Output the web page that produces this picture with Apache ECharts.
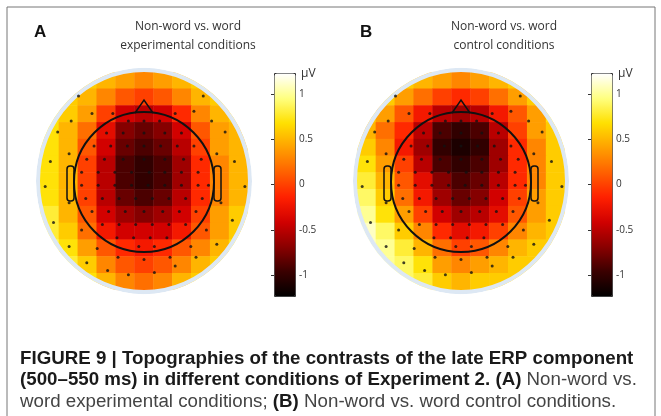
<!DOCTYPE html>
<html><head><meta charset="utf-8">
<script src="https://cdn.jsdelivr.net/npm/echarts@6/dist/echarts.min.js"></script>
<style>html,body{margin:0;padding:0;background:#fff}#main{width:661px;height:416px}</style>
</head><body><div id="main"></div>
<script>
var chartDom = document.getElementById('main');
var myChart = echarts.init(chartDom);

// grid of values (μV), rows top -> bottom, columns left -> right
var cols = ['-1','-0.8','-0.6','-0.4','-0.2','0','0.2','0.4','0.6','0.8','1'];
var rows = ['1','0.83','0.67','0.5','0.33','0.17','0','-0.17','-0.33','-0.5','-0.67','-0.83','-1'];
var mapA = [
  [0.6,0.6,0.6,0.5,0.4,0.3,0.4,0.5,0.6,0.6,0.6],
  [0.6,0.6,0.5,0.3,0.1,0.0,0.1,0.3,0.5,0.6,0.6],
  [0.7,0.6,0.4,0.0,-0.4,-0.5,-0.4,-0.1,0.3,0.5,0.6],
  [0.7,0.5,0.2,-0.3,-0.7,-0.8,-0.7,-0.4,0.1,0.4,0.5],
  [0.7,0.5,0.1,-0.4,-0.8,-0.9,-0.8,-0.5,0.0,0.4,0.5],
  [0.7,0.5,0.0,-0.5,-0.9,-1.0,-0.9,-0.6,-0.1,0.3,0.5],
  [0.7,0.5,0.0,-0.5,-0.9,-1.0,-0.9,-0.6,-0.1,0.3,0.5],
  [0.7,0.5,0.0,-0.5,-0.8,-0.9,-0.8,-0.5,-0.1,0.3,0.5],
  [0.8,0.5,0.1,-0.4,-0.6,-0.7,-0.6,-0.4,0.0,0.4,0.6],
  [0.8,0.6,0.2,-0.2,-0.4,-0.4,-0.4,-0.2,0.1,0.4,0.6],
  [0.9,0.7,0.4,0.1,-0.1,-0.2,-0.1,0.1,0.3,0.5,0.7],
  [0.9,0.8,0.6,0.3,0.1,0.0,0.1,0.3,0.5,0.6,0.7],
  [0.9,0.8,0.7,0.5,0.3,0.2,0.3,0.5,0.6,0.7,0.7]
];
var mapB = [
  [0.7,0.7,0.6,0.5,0.4,0.3,0.4,0.5,0.6,0.7,0.8],
  [0.7,0.6,0.4,0.2,0.0,-0.1,0.0,0.2,0.4,0.6,0.8],
  [0.6,0.4,0.1,-0.2,-0.5,-0.6,-0.5,-0.2,0.1,0.4,0.7],
  [0.5,0.2,-0.1,-0.5,-0.9,-1.0,-0.9,-0.5,0.0,0.4,0.6],
  [0.6,0.3,-0.2,-0.6,-1.0,-1.1,-1.0,-0.6,-0.1,0.3,0.6],
  [0.7,0.4,0.0,-0.5,-0.9,-1.0,-0.9,-0.6,-0.1,0.3,0.6],
  [0.8,0.5,0.1,-0.3,-0.7,-0.9,-0.8,-0.5,-0.1,0.3,0.6],
  [0.9,0.6,0.2,-0.2,-0.6,-0.8,-0.7,-0.4,0.0,0.4,0.6],
  [1.0,0.7,0.4,0.0,-0.4,-0.6,-0.5,-0.3,0.1,0.4,0.6],
  [1.1,0.9,0.6,0.3,-0.1,-0.3,-0.2,0.0,0.3,0.5,0.6],
  [1.1,1.0,0.8,0.5,0.2,0.0,0.1,0.3,0.5,0.6,0.6],
  [1.1,1.0,0.9,0.7,0.4,0.3,0.4,0.5,0.6,0.6,0.6],
  [1.1,1.0,0.9,0.8,0.6,0.5,0.6,0.6,0.6,0.6,0.6]
];
// electrode positions, normalized to the map ellipse [x, y]
var electrodes = [
  [-0.15,0.55],[0,0.55],[0.15,0.55],
  [-0.36,0.44],[-0.2,0.44],[0,0.44],[0.2,0.44],[0.36,0.44],
  [-0.48,0.32],[-0.32,0.32],[-0.16,0.32],[0,0.32],[0.16,0.32],[0.32,0.32],[0.48,0.32],
  [-0.55,0.2],[-0.38,0.2],[-0.2,0.2],[0,0.2],[0.2,0.2],[0.38,0.2],[0.55,0.2],
  [-0.6,0.08],[-0.44,0.08],[-0.28,0.08],[-0.12,0.08],[0.05,0.08],[0.2,0.08],[0.36,0.08],[0.52,0.08],
  [-0.6,-0.04],[-0.44,-0.04],[-0.28,-0.04],[-0.12,-0.04],[0.04,-0.04],[0.2,-0.04],[0.36,-0.04],[0.52,-0.04],[0.62,-0.04],
  [-0.56,-0.16],[-0.4,-0.16],[-0.24,-0.16],[-0.08,-0.16],[0.08,-0.16],[0.24,-0.16],[0.4,-0.16],[0.56,-0.16],
  [-0.5,-0.28],[-0.34,-0.28],[-0.18,-0.28],[0,-0.28],[0.18,-0.28],[0.34,-0.28],[0.5,-0.28],
  [-0.4,-0.4],[-0.24,-0.4],[-0.08,-0.4],[0.08,-0.4],[0.24,-0.4],[0.4,-0.4],
  [-0.26,-0.52],[-0.1,-0.52],[0.06,-0.52],[0.22,-0.52],[-0.05,-0.6],[0.1,-0.6],
  [-0.63,0.78],[0.57,0.78],[-0.83,0.45],[-0.3,0.62],[0.3,0.62],[0.78,0.45],[-0.9,0.18],[0.87,0.18],
  [-0.95,-0.05],[0.97,-0.05],[-0.87,-0.38],[0.85,-0.36],[-0.72,-0.6],[0.7,-0.58],[-0.55,-0.75],
  [-0.35,-0.82],[-0.15,-0.86],[0.1,-0.84],[0.3,-0.78],[0.5,-0.7],[-0.72,0.25],[0.7,0.25],
  [-0.72,-0.2],[0.74,-0.2],[-0.6,-0.45],[0.6,-0.45],[-0.45,-0.62],[0.45,-0.6],[-0.25,-0.7],
  [0,-0.72],[0.25,-0.7],[-0.7,0.55],[0.65,0.55],[-0.5,0.62],[0.48,0.64]
];
var barTicks = [-1, -0.5, 0, 0.5, 1];
var hot = ['#000000','#3a0000','#8a0000','#d00000','#ff2000','#ff6000','#ffa000','#ffe000','#ffff80','#ffffff'];

function cells(m) {
  var out = [];
  for (var r = 0; r < m.length; r++)
    for (var c = 0; c < m[r].length; c++) out.push([c, r, m[r][c]]);
  return out;
}

var maps = [
  { cx: 144, cy: 181, bar: 274, label: 'A', lx: 34, tx: 188, title: 'Non-word vs. word\nexperimental conditions' },
  { cx: 461, cy: 181, bar: 591, label: 'B', lx: 360, tx: 504, title: 'Non-word vs. word\ncontrol conditions' }
];
var RX = 104, RY = 109;
var BAR_TOP = 73, BAR_H = 223;

var grid = [], xAxis = [], yAxis = [], series = [], visualMap = [], graphic = [];
maps.forEach(function (m, i) {
  var g = i * 3;
  grid.push({ left: m.cx - RX, top: m.cy - RY, width: 2 * RX, height: 2 * RY });
  grid.push({ left: m.cx - RX, top: m.cy - RY, width: 2 * RX, height: 2 * RY });
  grid.push({ left: m.bar, top: BAR_TOP, width: 21, height: BAR_H });
  xAxis.push({ type: 'category', data: cols, gridIndex: g, show: false });
  yAxis.push({ type: 'category', data: rows, gridIndex: g, show: false, inverse: true });
  xAxis.push({ type: 'value', min: -1, max: 1, gridIndex: g + 1, show: false });
  yAxis.push({ type: 'value', min: -1, max: 1, gridIndex: g + 1, show: false });
  xAxis.push({ type: 'value', min: 0, max: 1, gridIndex: g + 2, show: false });
  yAxis.push({
    type: 'value', min: -1.23, max: 1.23, gridIndex: g + 2, position: 'right', z: 10,
    splitLine: { show: false }, axisLine: { show: false },
    axisTick: { show: true, inside: true, length: 3, customValues: barTicks, lineStyle: { color: '#333' } },
    axisLabel: { customValues: barTicks, fontSize: 10, color: '#333', margin: 4, fontFamily: 'Open Sans' }
  });
  series.push({ type: 'heatmap', xAxisIndex: g, yAxisIndex: g, data: cells(i ? mapB : mapA), z: 1 });
  series.push({
    type: 'scatter', xAxisIndex: g + 1, yAxisIndex: g + 1, data: electrodes, z: 20,
    symbolSize: 3, itemStyle: { color: '#111' }, silent: true
  });
  visualMap.push({
    type: 'continuous', min: -1.23, max: 1.23, seriesIndex: i * 2, inRange: { color: hot },
    left: m.bar, top: BAR_TOP, itemWidth: 21, itemHeight: BAR_H, text: null, calculable: false,
    padding: 0, showLabel: false, borderColor: '#333', borderWidth: 1, z: 8, hoverLink: false
  });
  // mask outside the ellipse and its light rim
  graphic.push({ type: 'ring', x: m.cx, y: m.cy, scaleY: RY / RX, z: 3,
    shape: { cx: 0, cy: 0, r0: RX, r: RX + 4 }, style: { fill: '#dde8f4' } });
  graphic.push({ type: 'ring', x: m.cx, y: m.cy, scaleY: RY / RX, z: 3,
    shape: { cx: 0, cy: 0, r0: RX + 4, r: 150 }, style: { fill: '#fff' } });
  // head outline, nose and ears
  graphic.push({ type: 'circle', x: m.cx, y: m.cy + 1, z: 15,
    shape: { cx: 0, cy: 0, r: 70 }, style: { fill: null, stroke: '#111', lineWidth: 2 } });
  graphic.push({ type: 'polyline', z: 15,
    shape: { points: [[m.cx - 9, m.cy - 68], [m.cx, m.cy - 81], [m.cx + 9, m.cy - 68]] },
    style: { stroke: '#111', lineWidth: 1.5, fill: null } });
  graphic.push({ type: 'rect', z: 15, shape: { x: m.cx - 77, y: m.cy - 15, width: 7, height: 35, r: 3 },
    style: { stroke: '#111', lineWidth: 1.5, fill: null } });
  graphic.push({ type: 'rect', z: 15, shape: { x: m.cx + 70, y: m.cy - 15, width: 7, height: 35, r: 3 },
    style: { stroke: '#111', lineWidth: 1.5, fill: null } });
  graphic.push({ type: 'text', x: m.lx, y: 24, z: 30,
    style: { text: m.label, font: 'bold 17px "Liberation Sans"', fill: '#111' } });
  graphic.push({ type: 'text', x: m.tx, y: 17, z: 30,
    style: { text: m.title, font: '12px "Open Sans"', fill: '#333', align: 'center', lineHeight: 19 } });
  graphic.push({ type: 'text', x: m.bar + 27, y: 68, z: 30,
    style: { text: 'μV', font: '12px "Open Sans"', fill: '#333' } });
});

graphic.push({ type: 'polyline', z: 30, shape: { points: [[7, 420], [7, 7], [655, 7], [655, 420]] },
  style: { stroke: '#777', lineWidth: 1, fill: null } });
graphic.push({ type: 'text', x: 20, y: 348, z: 30, scaleX: 1.04, style: {
  text: '{b|FIGURE 9 | Topographies of the contrasts of the late ERP component}\n' +
        '{b|(500–550 ms) in different conditions of Experiment 2. (A)}{n| Non-word vs.}\n' +
        '{n|word experimental conditions; }{b|(B)}{n| Non-word vs. word control conditions.}',
  rich: {
    b: { font: 'bold 18px "Liberation Sans"', fill: '#1a1a1a', lineHeight: 21.5 },
    n: { font: '18px "Liberation Sans"', fill: '#444', lineHeight: 21.5 }
  }
} });

var option = {
  animation: false,
  grid: grid, xAxis: xAxis, yAxis: yAxis,
  visualMap: visualMap, series: series, graphic: graphic
};
option && myChart.setOption(option);
</script>
</body></html>
